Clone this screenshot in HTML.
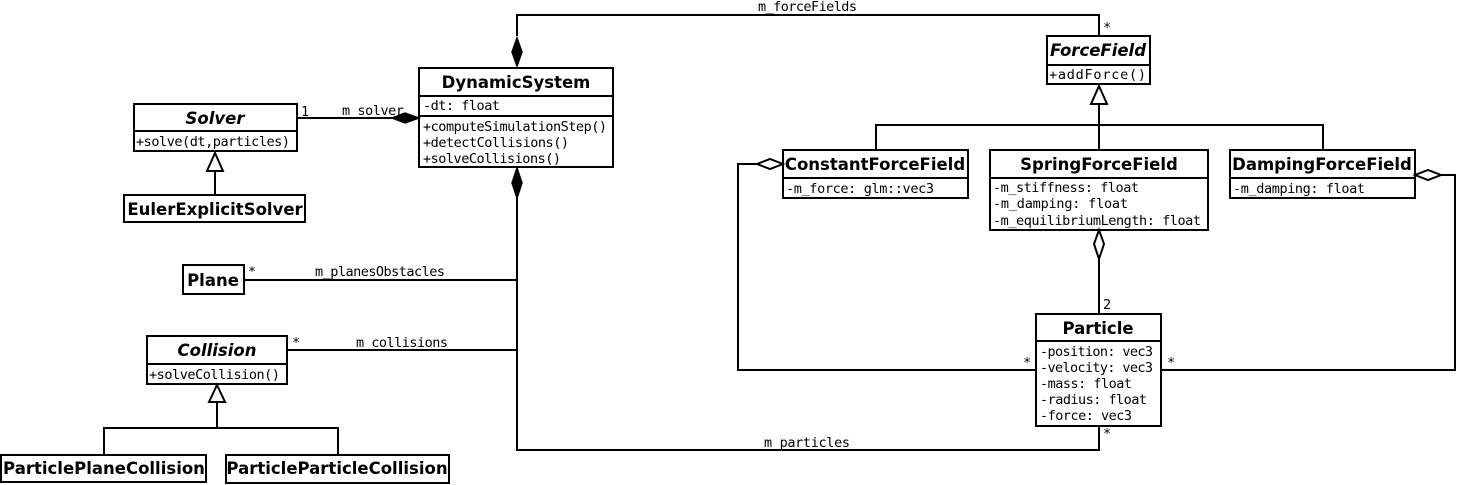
<!DOCTYPE html>
<html><head><meta charset="utf-8"><style>
html,body{margin:0;padding:0;background:#fff;}
svg{display:block}
.t{font-family:"DejaVu Sans","Liberation Sans",sans-serif;font-weight:bold;font-size:16.5px;text-anchor:middle}
.i{font-style:italic}
.m{font-family:"DejaVu Sans Mono","Liberation Mono",monospace;font-size:13.5px}
.l{font-family:"DejaVu Sans Mono","Liberation Mono",monospace;font-size:13.5px}
</style></head><body>
<svg width="1459" height="485" viewBox="0 0 1459 485" xmlns="http://www.w3.org/2000/svg">
<g fill="#fff" stroke="#000" stroke-width="2">
<rect x="419" y="68" width="194" height="99"/><line x1="419" y1="96" x2="613" y2="96"/><line x1="419" y1="116" x2="613" y2="116"/>
<rect x="134" y="104" width="163" height="47"/><line x1="134" y1="131" x2="297" y2="131"/>
<rect x="124" y="195" width="181" height="27"/>
<rect x="183" y="265" width="61" height="29"/>
<rect x="147" y="336" width="140" height="48"/><line x1="147" y1="364" x2="287" y2="364"/>
<rect x="1" y="455" width="205" height="27"/>
<rect x="226" y="455" width="223" height="28"/>
<rect x="1047" y="36" width="103" height="48"/><line x1="1047" y1="65" x2="1150" y2="65"/>
<rect x="783" y="150" width="185" height="48"/><line x1="783" y1="178" x2="968" y2="178"/>
<rect x="990" y="150" width="218" height="80"/><line x1="990" y1="178" x2="1208" y2="178"/>
<rect x="1230" y="150" width="185" height="48"/><line x1="1230" y1="178" x2="1415" y2="178"/>
<rect x="1036" y="314" width="125" height="112"/><line x1="1036" y1="341" x2="1161" y2="341"/>
</g>
<g fill="none" stroke="#000" stroke-width="2">
<polyline points="517,36 517,15 1099,15 1099,36"/>
<line x1="297" y1="118" x2="392" y2="118"/>
<polyline points="517,198 517,450 1099,450 1099,426"/>
<line x1="244" y1="280" x2="517" y2="280"/>
<line x1="287" y1="350" x2="517" y2="350"/>
<line x1="217" y1="402" x2="217" y2="428"/>
<polyline points="104,455 104,428 338,428 338,455"/>
<line x1="215" y1="171" x2="215" y2="195"/>
<line x1="1099" y1="104" x2="1099" y2="150"/>
<polyline points="876,150 876,125 1323,125 1323,150"/>
<line x1="1099" y1="259" x2="1099" y2="314"/>
<polyline points="757,164 738,164 738,370 1036,370"/>
<polyline points="1441,175 1455,175 1455,370 1161,370"/>
</g>
<g fill="#000" stroke="#000" stroke-width="1.5">
<polygon points="517,38 522,52 517,66 512,52"/>
<polygon points="392,118 405,113 419,118 405,123"/>
<polygon points="517,168 522,183 517,198 512,183"/>
</g>
<g fill="#fff" stroke="#000" stroke-width="2">
<polygon points="217,385 225,402 209,402"/>
<polygon points="215,153 223,171 207,171"/>
<polygon points="1099,86 1107,104 1091,104"/>
<polygon points="1099,230 1104,244 1099,259 1094,244"/>
<polygon points="783,164 770,169 757,164 770,159"/>
<polygon points="1415,175 1428,170 1441,175 1428,180"/>
</g>
<g>
<text class="t" x="516" y="88">DynamicSystem</text>
<text class="t i" x="215" y="124">Solver</text>
<text class="t" x="215" y="215">EulerExplicitSolver</text>
<text class="t" x="213" y="286">Plane</text>
<text class="t i" x="217" y="356">Collision</text>
<text class="t" x="104" y="474">ParticlePlaneCollision</text>
<text class="t" x="337" y="474">ParticleParticleCollision</text>
<text class="t i" x="1098" y="56">ForceField</text>
<text class="t" x="875" y="170">ConstantForceField</text>
<text class="t" x="1099" y="170">SpringForceField</text>
<text class="t" x="1322" y="170">DampingForceField</text>
<text class="t" x="1098" y="334">Particle</text>
</g>
<g class="m">
<text x="423" y="110" textLength="77">-dt: float</text>
<text x="423" y="131" textLength="184">+computeSimulationStep()</text>
<text x="423" y="147" textLength="146">+detectCollisions()</text>
<text x="423" y="163" textLength="138">+solveCollisions()</text>
<text x="136" y="146" textLength="154">+solve(dt,particles)</text>
<text x="149" y="379" textLength="131">+solveCollision()</text>
<text x="1049" y="79" textLength="97">+addForce()</text>
<text x="786" y="193" textLength="148">-m_force: glm::vec3</text>
<text x="993" y="192" textLength="146">-m_stiffness: float</text>
<text x="993" y="208" textLength="135">-m_damping: float</text>
<text x="993" y="225" textLength="208">-m_equilibriumLength: float</text>
<text x="1233" y="193" textLength="132">-m_damping: float</text>
<text x="1040" y="356" textLength="113">-position: vec3</text>
<text x="1040" y="372" textLength="113">-velocity: vec3</text>
<text x="1040" y="388" textLength="92">-mass: float</text>
<text x="1040" y="404" textLength="107">-radius: float</text>
<text x="1040" y="420" textLength="92">-force: vec3</text>
</g>
<g class="l">
<text x="758" y="11" textLength="99">m_forceFields</text>
<text x="1103" y="32">*</text>
<text x="301" y="116">1</text>
<text x="342" y="115" textLength="62">m_solver</text>
<text x="315" y="276" textLength="130">m_planesObstacles</text>
<text x="248" y="276">*</text>
<text x="356" y="347" textLength="92">m_collisions</text>
<text x="292" y="347">*</text>
<text x="764" y="447" textLength="86">m_particles</text>
<text x="1103" y="438">*</text>
<text x="1103" y="309">2</text>
<text x="1023" y="367">*</text>
<text x="1167" y="367">*</text>
</g>
</svg>
</body></html>
